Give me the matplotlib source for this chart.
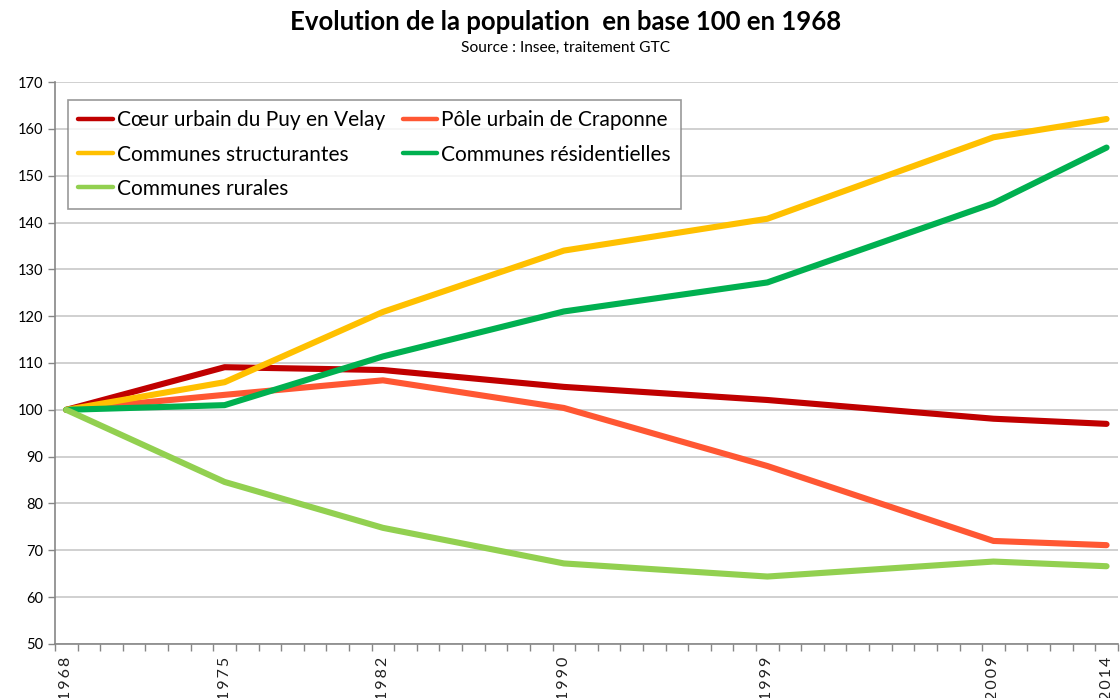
import matplotlib
matplotlib.use("Agg")
import matplotlib.pyplot as plt
import numpy as np

years = [1968, 1975, 1982, 1990, 1999, 2009, 2014]
tick_years = [1968, 1975, 1982, 1990, 1999, 2009, 2014]

coeur = [100, 109.1, 108.5, 104.9, 102.1, 98.1, 97.0]
craponne = [100, 103.2, 106.3, 100.4, 88.0, 72.0, 71.1]
structurantes = [100, 105.9, 120.9, 134.0, 140.8, 158.2, 162.1]
residentielles = [100, 101.0, 111.4, 121.0, 127.2, 144.1, 156.0]
rurales = [100, 84.6, 74.8, 67.2, 64.4, 67.6, 66.6]

labels = ["Cœur urbain du Puy en Velay", "Pôle urbain de Craponne",
          "Communes structurantes", "Communes résidentielles",
          "Communes rurales"]
series = [coeur, craponne, structurantes, residentielles, rurales]
colors = ["#C00000", "#FF5733", "#FFC000", "#00B050", "#92D050"]

plt.rcParams['font.family'] = ['Lato', 'DejaVu Sans']

fig = plt.figure(figsize=(11.2, 6.98), dpi=100)
ax = fig.add_axes([0.0491, 0.0774, 0.949, 0.8051])

handles = {}
for lab, s, c in zip(labels, series, colors):
    h, = ax.plot(years, s, color=c, lw=4.4, solid_capstyle='round',
                 solid_joinstyle='round', label=lab, zorder=3)
    handles[lab] = h

ax.set_xlim(1967.5, 2014.5)
ax.set_ylim(50, 170)
ax.set_yticks(np.arange(50, 171, 10))
ax.yaxis.grid(True, color="#C8C8C8", lw=1.2)
ax.set_axisbelow(True)

# category boundaries as tick marks
ax.set_xticks(np.arange(1967.5, 2015, 1.0))
ax.set_xticklabels([])
ax.tick_params(axis='x', which='major', length=5, color="#868686", width=1)
ax.set_xticks(tick_years, minor=True)
ax.set_xticklabels(["\u2009".join(str(y)) for y in tick_years], minor=True,
                   rotation=90, fontsize=11.5, color="#222222")
ax.tick_params(axis='x', which='minor', length=0, pad=9)
ax.tick_params(axis='y', length=5, color="#868686", width=1, labelsize=10.5)

for sp in ['top', 'right']:
    ax.spines[sp].set_visible(False)
for sp in ['left', 'bottom']:
    ax.spines[sp].set_color("#868686")
    ax.spines[sp].set_linewidth(1.2)

order = [labels[0], labels[2], labels[4], labels[1], labels[3]]
leg = ax.legend([handles[l] for l in order], order, ncol=2, loc='upper left',
                bbox_to_anchor=(0.012, 0.968), borderaxespad=0,
                fontsize=15, frameon=True,
                fancybox=False, edgecolor="#808080", handlelength=1.65,
                handletextpad=0.2, columnspacing=0.85, labelspacing=0.68,
                borderpad=0.5)
leg.get_frame().set_linewidth(1.2)
for ln in leg.get_lines():
    ln.set_linewidth(3.2)

fig.text(0.505, 0.969, "Evolution de la population  en base 100 en 1968",
         ha='center', va='center', fontsize=18.5, fontweight='bold')
fig.text(0.505, 0.932, "Source : Insee, traitement GTC", ha='center',
         va='center', fontsize=11.2)

fig.savefig("out.png", dpi=100)
